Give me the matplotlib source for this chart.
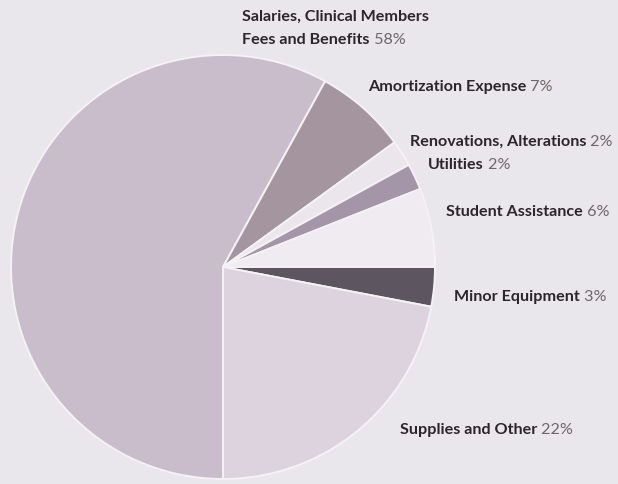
import matplotlib
matplotlib.use('Agg')
import matplotlib.pyplot as plt

# spending shares, clockwise from the bottom of the pie
names = ['Salaries, Clinical Members\nFees and Benefits', 'Amortization Expense',
         'Renovations, Alterations', 'Utilities', 'Student Assistance',
         'Minor Equipment', 'Supplies and Other']
shares = [58, 7, 2, 2, 6, 3, 22]
colors = ['#c9bccb', '#a4959f', '#ebe6ec', '#a595a8', '#efebf0', '#5d5560', '#dcd3de']

# label anchor (left edge, vertical centre) in pixels from the top left
label_pos = [(242, 28), (368, 87), (410, 142), (428, 165), (446, 212), (454, 297), (400, 430)]

W, H = 618, 485
fig = plt.figure(figsize=(W / 100, H / 100), dpi=100)
fig.patch.set_facecolor('#e9e7eb')
ax = fig.add_axes([0, 0, 1, 1])
ax.set_facecolor('#e9e7eb')

ax.pie(shares, colors=colors, startangle=-90, counterclock=False,
       center=(223, H - 268), radius=212,
       wedgeprops=dict(edgecolor='#f4f2f5', linewidth=1.4))

ax.set_xlim(0, W)
ax.set_ylim(0, H)
ax.set_aspect('equal')
ax.axis('off')

font = 'Lato'
fs = 11.6
for name, pct, (x, y) in zip(names, shares, label_pos):
    lines = name.split('\n')
    if len(lines) == 2:
        ax.text(x, H - y + 11, lines[0], fontsize=fs, fontweight='bold',
                family=font, color='#2b2629', ha='left', va='center')
        t = ax.text(x, H - y - 12, lines[1], fontsize=fs, fontweight='bold',
                    family=font, color='#2b2629', ha='left', va='center')
    else:
        t = ax.text(x, H - y, name, fontsize=fs, fontweight='bold',
                    family=font, color='#2b2629', ha='left', va='center')
    ax.annotate(f' {pct}%', xy=(1, 0), xycoords=t, ha='left', va='bottom',
                fontsize=fs, family=font, color='#6d6669')

fig.savefig('out.png', dpi=100, facecolor=fig.get_facecolor())
